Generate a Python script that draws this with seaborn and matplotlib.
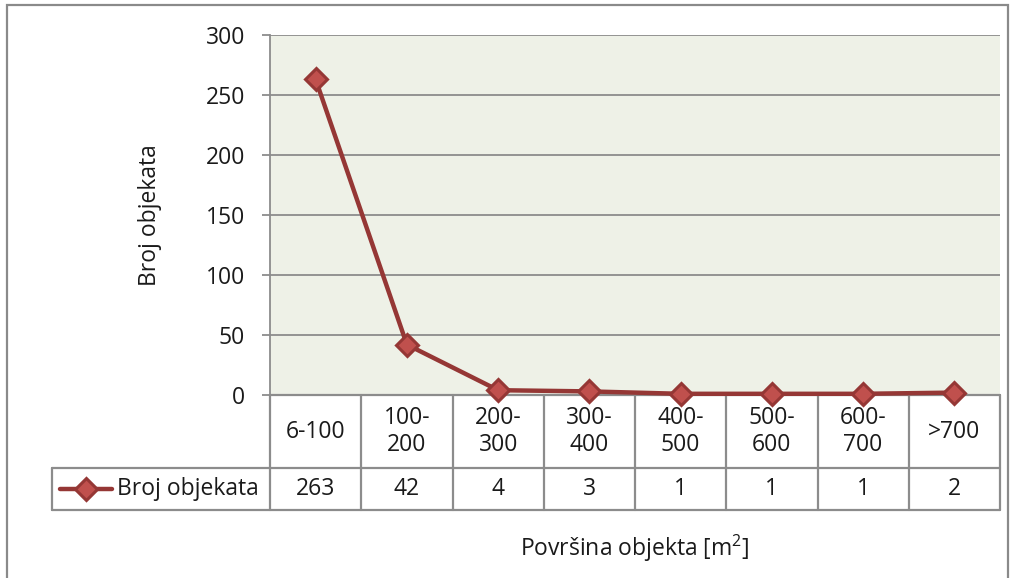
import matplotlib
matplotlib.use("Agg")
import matplotlib.pyplot as plt
import matplotlib.transforms as mtransforms
from matplotlib.lines import Line2D
from matplotlib.patches import Rectangle
import seaborn as sns
import pandas as pd

categories = ["6-100", "100-\n200", "200-\n300", "300-\n400", "400-\n500", "500-\n600", "600-\n700", ">700"]
counts = [263, 42, 4, 3, 1, 1, 1, 2]
series_name = "Broj objekata"
y_ticks = [0, 50, 100, 150, 200, 250, 300]
x_title = "Površina objekta [m$^{2}$]"
y_title = "Broj objekata"

sns.set_theme(style="white")
plt.rcParams["font.family"] = ["Open Sans", "DejaVu Sans"]
plt.rcParams["mathtext.fontset"] = "custom"
plt.rcParams["mathtext.rm"] = "Open Sans"

LINE = "#953735"
FILL = "#C0504D"
GRID = "#8C8C8C"
BG = "#EEF1E7"
TXT = "#1a1a1a"
FS = 16.5

W, H = 1015, 578
fig = plt.figure(figsize=(W / 100, H / 100), dpi=100)
fig.patch.set_facecolor("white")
fig.patches.append(Rectangle((7 / W, -0.05), 1001 / W, 1.05 - 5 / H, transform=fig.transFigure,
                             fill=False, edgecolor="#8a8a8a", linewidth=1.6))

ax = fig.add_axes([270 / W, 1 - 395 / H, 730 / W, 360 / H])
ax.set_facecolor(BG)

df = pd.DataFrame({"pos": list(range(len(categories))), "val": counts})
sns.lineplot(data=df, x="pos", y="val", ax=ax, color=LINE, linewidth=3.2, marker="D",
             markersize=11, markerfacecolor=FILL, markeredgecolor=LINE, markeredgewidth=2.2,
             sort=False, zorder=5, clip_on=False)

ax.set_xlim(-0.5, len(categories) - 0.5)
ax.set_ylim(0, 300)
ax.set_yticks(y_ticks)
ax.set_yticklabels([str(t) for t in y_ticks], fontsize=FS, color=TXT)
ax.set_xticks([])
ax.set_xlabel("")
ax.yaxis.grid(True, color=GRID, linewidth=1.3)
ax.set_axisbelow(True)
ax.tick_params(axis="y", length=6, width=1.3, color=GRID, pad=12, left=True)
for s in ["top", "right"]:
    ax.spines[s].set_visible(False)
ax.spines["left"].set_color(GRID)
ax.spines["left"].set_linewidth(1.3)
ax.spines["bottom"].set_color(GRID)
ax.spines["bottom"].set_linewidth(1.3)

ax.set_ylabel(y_title, fontsize=FS, color=TXT)
ax.yaxis.set_label_coords(-0.148, 0.5)

# data table below axes
trans = mtransforms.blended_transform_factory(ax.transData, ax.transAxes)
row1 = -73 / 360
row2 = -115 / 360
n = len(categories)
left_edge = (52 - 270) / (730 / n) - 0.5
tkw = dict(transform=trans, color=GRID, linewidth=1.6, clip_on=False)
for i in range(n + 1):
    ax.add_line(Line2D([i - 0.5, i - 0.5], [0, row2], **tkw))
ax.add_line(Line2D([left_edge, n - 0.5], [row1, row1], **tkw))
ax.add_line(Line2D([left_edge, n - 0.5], [row2, row2], **tkw))
ax.add_line(Line2D([left_edge, left_edge], [row1, row2], **tkw))
ax.add_line(Line2D([-0.5, n - 0.5], [0, 0], **tkw))

for i, (c, v) in enumerate(zip(categories, counts)):
    ax.text(i, row1 / 2, c, transform=trans, ha="center", va="center", fontsize=FS,
            color=TXT, linespacing=1.2)
    ax.text(i, (row1 + row2) / 2, str(v), transform=trans, ha="center", va="center",
            fontsize=FS, color=TXT)

# legend key inside table
unit = 730 / n
def px2data(px):
    return (px - 270) / unit - 0.5
ym = (row1 + row2) / 2
ax.add_line(Line2D([px2data(60), px2data(112)], [ym, ym], transform=trans, color=LINE,
                   linewidth=3.2, clip_on=False))
ax.add_line(Line2D([px2data(86)], [ym], transform=trans, marker="D", markersize=11,
                   markerfacecolor=FILL, markeredgecolor=LINE, markeredgewidth=2.2,
                   linestyle="none", clip_on=False))
ax.text(px2data(117), ym, series_name, transform=trans, ha="left", va="center",
        fontsize=FS, color=TXT)

fig.text(635 / W, 1 - 548 / H, x_title, ha="center", va="center", fontsize=FS, color=TXT)

fig.savefig("out.png", dpi=100)
